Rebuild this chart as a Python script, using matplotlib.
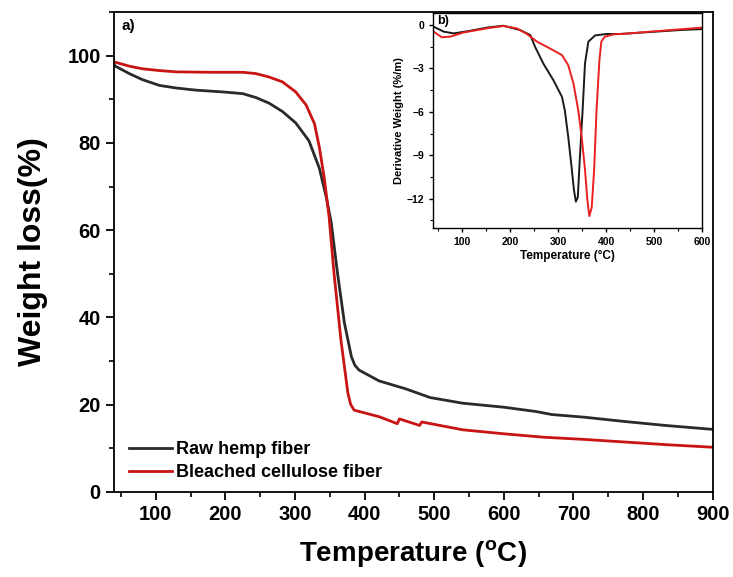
import matplotlib.pyplot as plt
from matplotlib.ticker import MultipleLocator

plt.rcParams['font.family'] = ['Liberation Sans', 'DejaVu Sans']
plt.rcParams['font.weight'] = 'bold'

# TGA curves (main panel)
raw_t = [40, 42, 62, 81, 105, 129, 158, 196, 225, 244, 263, 282, 301, 320, 335,
         345, 352, 361, 371, 381, 386, 392, 421, 459, 494, 541, 599, 646, 669, 715,
         774, 832, 900]
raw_w = [98.0, 97.6, 95.9, 94.5, 93.2, 92.6, 92.1, 91.7, 91.3, 90.4, 89.1, 87.2,
         84.6, 80.5, 74.2, 67.5, 61.8, 50.2, 38.7, 31.0, 29.0, 27.9, 25.4, 23.6,
         21.6, 20.3, 19.4, 18.4, 17.7, 17.1, 16.1, 15.2, 14.3]
bl_t = [40, 42, 62, 81, 105, 129, 177, 225, 244, 263, 282, 301, 316, 328, 335,
        342, 349, 356, 366, 376, 380, 385, 421, 447, 450, 479, 482, 541, 599, 657,
        715, 774, 832, 900]
bl_w = [98.6, 98.5, 97.6, 97.0, 96.6, 96.3, 96.2, 96.2, 95.9, 95.1, 94.0, 91.7,
        88.7, 84.4, 79.0, 72.0, 63.0, 50.2, 34.8, 22.6, 20.0, 18.7, 17.2, 15.6,
        16.7, 15.2, 16.0, 14.2, 13.3, 12.5, 12.0, 11.4, 10.8, 10.2]

# DTG curves (inset)
draw_t = [41, 62, 83, 117, 152, 186, 221, 242, 252, 269, 290, 308, 314, 321, 328,
          333, 337, 341, 345, 351, 356, 363, 377, 401, 429, 484, 553, 600]
draw_d = [-0.12, -0.46, -0.58, -0.4, -0.18, -0.05, -0.35, -0.69, -1.5, -2.65, -3.8,
          -4.96, -5.9, -7.7, -9.8, -11.4, -12.2, -11.9, -9.35, -5.9, -2.65, -1.15,
          -0.72, -0.62, -0.62, -0.5, -0.35, -0.28]
dbl_t = [41, 58, 76, 103, 152, 186, 214, 235, 256, 283, 308, 321, 332, 342, 349,
         356, 361, 365, 370, 375, 380, 386, 390, 397, 415, 449, 484, 553, 600]
dbl_d = [-0.46, -0.85, -0.8, -0.52, -0.23, -0.07, -0.23, -0.62, -1.15, -1.62, -2.08,
         -2.77, -4.04, -5.9, -7.7, -10.0, -12.1, -13.2, -12.6, -10.0, -5.9, -2.42,
         -1.15, -0.81, -0.65, -0.58, -0.48, -0.3, -0.18]

black = '#2a2a2a'
red = '#c81414'

fig = plt.figure(figsize=(7.33, 5.77), dpi=100)
ax = fig.add_axes([0.1555, 0.1478, 0.8168, 0.8312])
ax.plot(raw_t, raw_w, color=black, lw=2.0, label='Raw hemp fiber')
ax.plot(bl_t, bl_w, color=red, lw=2.0, label='Bleached cellulose fiber')
ax.set_xlim(40, 900)
ax.set_ylim(0, 110)
ax.xaxis.set_major_locator(MultipleLocator(100))
ax.xaxis.set_minor_locator(MultipleLocator(50))
ax.yaxis.set_major_locator(MultipleLocator(20))
ax.yaxis.set_minor_locator(MultipleLocator(10))
ax.tick_params(which='major', direction='out', length=6, width=1.3, labelsize=14.5)
ax.tick_params(which='minor', direction='out', length=3.5, width=1.2)
for s in ax.spines.values():
    s.set_linewidth(1.3)
ax.set_xlabel('Temperature ($^{\\mathregular{o}}$C)', fontsize=20, fontweight='bold', labelpad=10)
ax.set_ylabel('Weight loss(%)', fontsize=23, fontweight='bold', labelpad=14)
ax.text(0.013, 0.985, 'a)', transform=ax.transAxes, fontsize=11, fontweight='bold',
        va='top', ha='left')
ax.legend(loc='lower left', bbox_to_anchor=(0.007, 0.0), frameon=False, fontsize=13,
          handlelength=2.4, handletextpad=0.2, labelspacing=0.3, borderaxespad=0.2)

ins = fig.add_axes([0.591, 0.6054, 0.367, 0.3726])
ins.plot(draw_t, draw_d, color='#1a1a1a', lw=1.4)
ins.plot(dbl_t, dbl_d, color='#e82020', lw=1.4)
ins.set_xlim(40, 600)
ins.set_ylim(-14, 0.85)
ins.xaxis.set_major_locator(MultipleLocator(100))
ins.xaxis.set_minor_locator(MultipleLocator(50))
ins.yaxis.set_major_locator(MultipleLocator(3))
ins.yaxis.set_minor_locator(MultipleLocator(1.5))
ins.tick_params(which='major', direction='out', length=3, width=1, labelsize=7.5)
ins.tick_params(which='minor', direction='out', length=2, width=0.8)
for s in ins.spines.values():
    s.set_linewidth(1.0)
ins.set_xlabel('Temperature (\u00b0C)', fontsize=8.5, fontweight='bold', labelpad=2)
ins.set_ylabel('Derivative Weight (%/m)', fontsize=8, fontweight='bold', labelpad=2)
ins.text(0.015, 0.99, 'b)', transform=ins.transAxes, fontsize=9, fontweight='bold',
         va='top', ha='left')

fig.savefig('out.png', dpi=100)
